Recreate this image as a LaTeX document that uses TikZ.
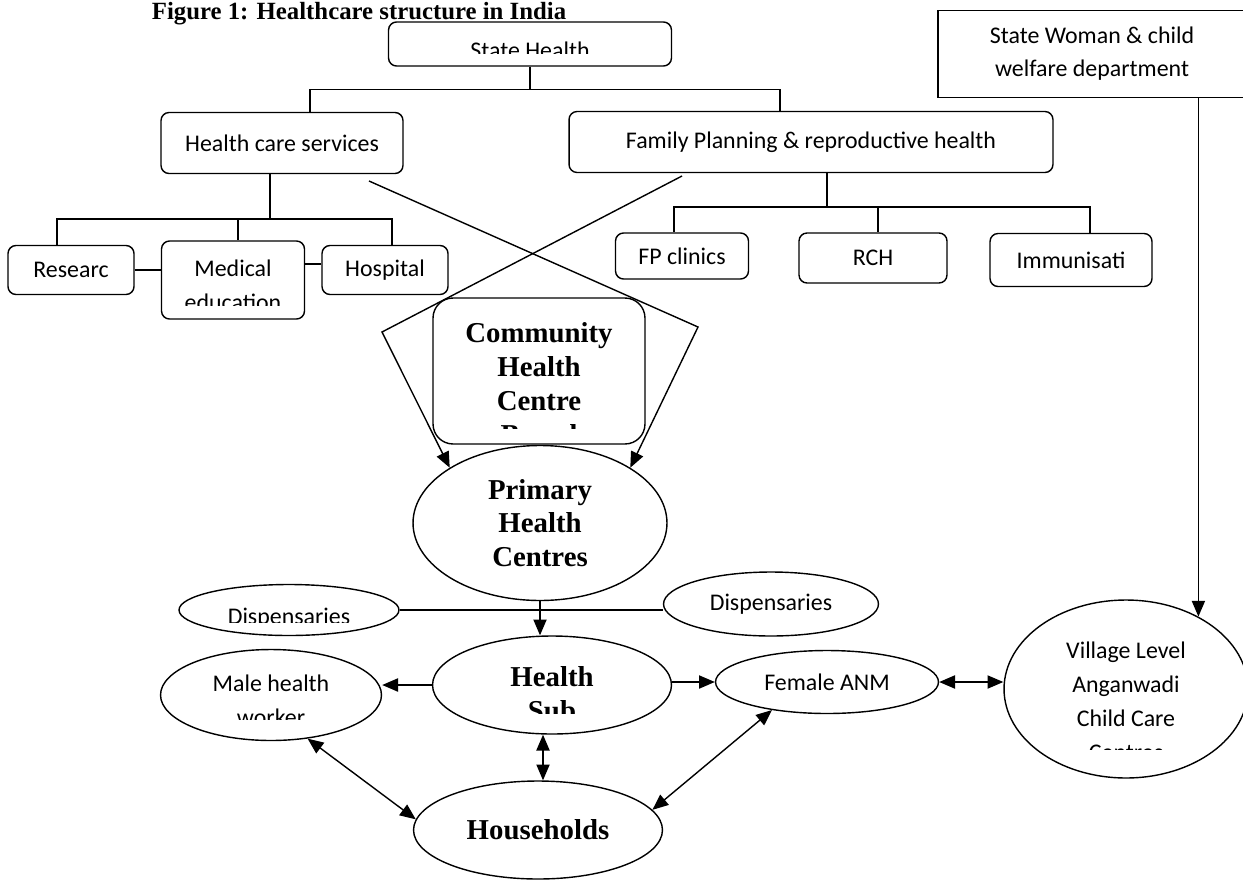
\documentclass[tikz,border=0pt]{standalone}
\usepackage{fontspec}
\setmainfont{Carlito}
\newfontfamily\tnr{Liberation Serif}
\usetikzlibrary{shapes.geometric,arrows.meta}

\tikzset{
  orgbox/.style={draw, rounded corners=0.16cm, line width=0.8pt, inner sep=0pt,
    font=\fontsize{13.6}{18.8}\selectfont, align=center},
  bubble/.style={draw, ellipse, line width=0.8pt, inner sep=0pt,
    font=\fontsize{13.6}{18.8}\selectfont, align=center},
  sanstxt/.style={font=\fontsize{13.6}{18.8}\selectfont, align=center, inner sep=0pt},
  boldtxt/.style={font=\tnr\bfseries\fontsize{16.4}{19.2}\selectfont, align=center, inner sep=0pt},
  link/.style={line width=0.8pt},
  arr/.style={line width=0.8pt, -{Triangle[length=9pt,width=7.5pt]}},
  duo/.style={line width=0.8pt, {Triangle[length=9pt,width=7.5pt]}-{Triangle[length=9pt,width=7.5pt]}},
}

\begin{document}
\begin{tikzpicture}[x=0.02cm, y=-0.02cm]
\useasboundingbox (0,0) rectangle (1243,879);

% title
\node[font=\tnr\bfseries\fontsize{14.1}{16}\selectfont, anchor=base, inner sep=0pt] (title) at (359,19) {Figure 1: Healthcare structure in India};

% state level
\node[orgbox, minimum width=5.66cm, minimum height=0.88cm] (state) at (530,44) {};
\begin{scope}
  \clip (389,22) rectangle (672,53);
  \node[sanstxt, anchor=base] (statetxt) at (530,58) {State Health};
\end{scope}
\node[orgbox, minimum width=4.84cm, minimum height=1.22cm] (hcs) at (282,143) {Health care services};
\node[orgbox, minimum width=9.68cm, minimum height=1.22cm] (fp) at (811,142) {Family Planning \& reproductive health};
\node[draw, line width=0.8pt, sanstxt, minimum width=6.16cm, minimum height=1.74cm] (woman) at (1092,54) {State Woman \& child\\welfare department};

% health care services branch
\node[orgbox, minimum width=2.52cm, minimum height=0.98cm] (research) at (71,270) {Researc};
\node[orgbox, minimum width=2.86cm, minimum height=1.56cm] (medical) at (233,280) {};
\begin{scope}
  \clip (161,241) rectangle (304,305);
  \node[sanstxt, anchor=base] (medicaltxt) at (233,310) {Medical\\education};
\end{scope}
\node[orgbox, minimum width=2.52cm, minimum height=0.98cm] (hospital) at (385,270) {Hospital};

% family planning branch
\node[orgbox, minimum width=2.66cm, minimum height=0.92cm] (fpclin) at (682,256) {FP clinics};
\node[orgbox, minimum width=2.96cm, minimum height=1.0cm] (rch) at (873,258) {RCH};
\node[orgbox, minimum width=3.24cm, minimum height=1.06cm] (immun) at (1071,260) {Immunisati};

% district and block level
\node[draw, rounded corners=0.4cm, line width=0.8pt, minimum width=4.24cm, minimum height=2.92cm] (chc) at (539,371) {};
\begin{scope}
  \clip (433,298) rectangle (645,428);
  \node[boldtxt, anchor=base] (chctxt) at (539,444) {Community\\Health\\Centre\\Board};
\end{scope}
\node[bubble, boldtxt, draw, minimum width=5.08cm, minimum height=3.1cm] (phc) at (540,523) {Primary\\Health\\Centres};

\node[bubble, minimum width=4.4cm, minimum height=1.02cm] (displ) at (289,610) {};
\begin{scope}
  \clip (179,585) rectangle (399,622);
  \node[sanstxt, anchor=base] (displtxt) at (289,624) {Dispensaries};
\end{scope}
\node[bubble, minimum width=4.3cm, minimum height=1.28cm] (dispr) at (771,604) {Dispensaries};

% village level
\node[bubble, minimum width=4.78cm, minimum height=1.96cm] (hsub) at (552,685) {};
\begin{scope}
  \clip (433,636) rectangle (672,713);
  \node[boldtxt, anchor=base] (hsubtxt) at (552,720) {Health\\Sub};
\end{scope}
\node[bubble, minimum width=4.42cm, minimum height=1.82cm] (male) at (271,695) {};
\begin{scope}
  \clip (161,650) rectangle (382,719);
  \node[sanstxt, anchor=base] (maletxt) at (271,725) {Male health\\worker};
\end{scope}
\node[bubble, minimum width=4.46cm, minimum height=1.26cm] (female) at (827,682) {Female ANM};
\node[bubble, boldtxt, draw, minimum width=4.98cm, minimum height=1.96cm] (house) at (538,830) {Households};
\node[bubble, minimum width=4.88cm, minimum height=3.56cm] (village) at (1126,689) {};
\begin{scope}
  \clip (1004,600) rectangle (1250,749);
  \node[sanstxt, anchor=base, font=\fontsize{13.6}{19.2}\selectfont] (villagetxt) at (1126,760) {Village Level\\Anganwadi\\Child Care\\Centres};
\end{scope}

% tree connectors
\draw[link] (state.south) -- ++(0,23) -| (hcs.north -| 310,0);
\draw[link] (state.south) -- ++(0,23) -| (fp.north -| 780,0);
\draw[link] (hcs.south -| 270,0) -- ++(0,45) -| (research.north -| 57,0);
\draw[link] (hcs.south -| 270,0) -- ++(0,45) -| (medical.north -| 238,0);
\draw[link] (hcs.south -| 270,0) -- ++(0,45) -| (hospital.north -| 392,0);
\draw[link] (research.east) -- (research.east -| medical.west);
\draw[link] (medical.east |- 0,264) -- (hospital.west |- 0,264);
\draw[link] (fp.south -| 827,0) -- ++(0,34) -| (fpclin.north -| 674,0);
\draw[link] (fp.south -| 827,0) -- ++(0,34) -| (rch.north -| 878,0);
\draw[link] (fp.south -| 827,0) -- ++(0,34) -| (immun.north -| 1090,0);

% crossing lines into PHC
\coordinate (hcsout) at (369,181);
\coordinate (hcsbend) at (698,327);
\coordinate (fpout) at (682,176);
\coordinate (fpbend) at (382,332);
\draw[arr] (hcsout) -- (hcsbend) -- (phc.north east);
\draw[arr] (fpout) -- (fpbend) -- (phc.north west);

% lower connectors
\draw[arr] (phc.south) -- (phc.south |- hsub.north);
\draw[link] (displ.east) -- (displ.east -| dispr.west);
\draw[arr] (hsub.west) -- (hsub.west -| male.east);
\draw[arr] (hsub.east |- female.west) -- (female.west);
\draw[duo] (female.east) -- (female.east -| village.west);
\draw[arr] (woman.south -| village.45) -- (village.45);
\draw[duo] (hsub.south -| 543,0) -- (house.north -| 543,0);
\draw[duo] (male.-50) -- (house.175);
\draw[duo] (female.-153) -- (house.10);
\end{tikzpicture}
\end{document}
